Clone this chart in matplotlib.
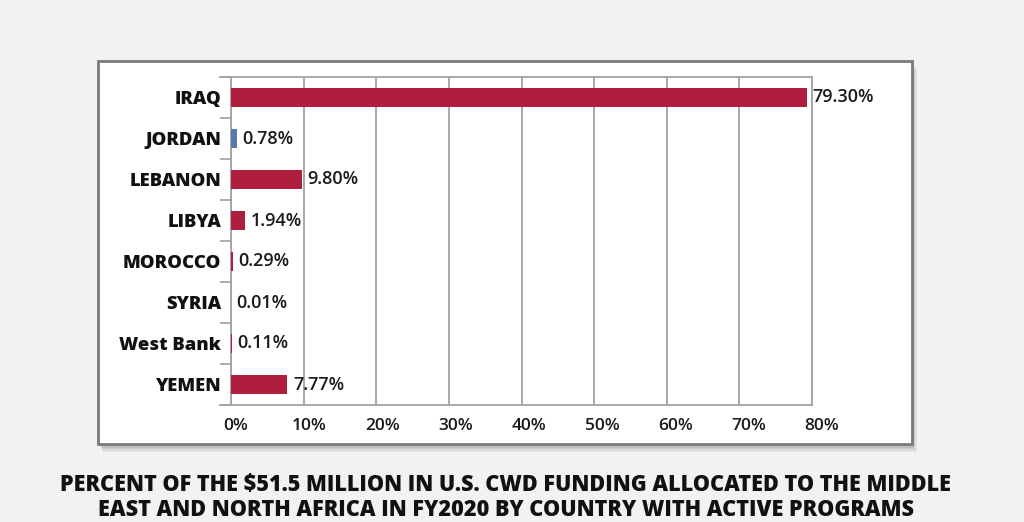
import matplotlib
matplotlib.use("Agg")
import matplotlib.pyplot as plt
from matplotlib.patches import Rectangle
from matplotlib.lines import Line2D
import matplotlib.transforms as mtrans
import numpy as np

countries = ["IRAQ", "JORDAN", "LEBANON", "LIBYA", "MOROCCO", "SYRIA", "West Bank", "YEMEN"]
values = [79.30, 0.78, 9.80, 1.94, 0.29, 0.01, 0.11, 7.77]
value_labels = ["79.30%", "0.78%", "9.80%", "1.94%", "0.29%", "0.01%", "0.11%", "7.77%"]
x_ticks = [0, 10, 20, 30, 40, 50, 60, 70, 80]
x_tick_labels = ["0%", "10%", "20%", "30%", "40%", "50%", "60%", "70%", "80%"]
title_lines = ["PERCENT OF THE $51.5 MILLION IN U.S. CWD FUNDING ALLOCATED TO THE MIDDLE",
               "EAST AND NORTH AFRICA IN FY2020 BY COUNTRY WITH ACTIVE PROGRAMS"]

RED = "#b01e3e"
BLUE = "#5a78b0"
bar_colors = [RED, BLUE, RED, RED, RED, RED, RED, RED]

W, H = 1024, 522
fig = plt.figure(figsize=(W / 100, H / 100), dpi=100)
fig.patch.set_facecolor("#f2f2f4")

px0, px1, py0, py1 = 98, 912, 61, 444
def fx(x): return x / W
def fy(y): return 1 - y / H
for i, a in enumerate([0.05, 0.05, 0.06, 0.07, 0.08]):
    off = 8 - i * 1.5
    fig.patches.append(Rectangle((fx(px0 + off * 0.6), fy(py1 + off)), fx(px1 - px0), fy(py0) - fy(py1),
                                 transform=fig.transFigure, facecolor="#000000", alpha=a,
                                 edgecolor="none", zorder=0))
fig.patches.append(Rectangle((fx(px0), fy(py1)), fx(px1 - px0), fy(py0) - fy(py1),
                             transform=fig.transFigure, facecolor="white",
                             edgecolor="#7a7a7a", linewidth=2, zorder=1))

ax = fig.add_axes([231 / W, 1 - 405 / H, (812 - 231) / W, (405 - 77) / H])
ax.set_facecolor("none")
ax.set_zorder(2)

y = np.arange(len(countries))
ax.barh(y, values, height=0.47, color=bar_colors, zorder=3)
ax.set_ylim(len(countries) - 0.5, -0.5)
ax.set_xlim(0, 80)

ax.set_xticks(x_ticks)
ax.set_xticklabels(x_tick_labels, fontfamily="Open Sans", fontsize=12.5, color="#1a1a1a", fontweight="semibold")
ax.tick_params(axis="x", length=0, pad=9)
for i, t in enumerate(ax.get_xticklabels()):
    t.set_transform(t.get_transform() + mtrans.ScaledTranslation((5 + i * 0.6) / 100, 0, fig.dpi_scale_trans))

ax.set_yticks(y)
ax.set_yticklabels(countries, fontfamily="Open Sans", fontsize=13.3, fontweight="extra bold", color="#111111")
ax.tick_params(axis="y", length=0, pad=7)
ax.set_yticks(np.arange(len(countries) + 1) - 0.5, minor=True)
ax.tick_params(axis="y", which="minor", length=8, width=1.2, color="#a0a0a0", direction="out")

ax.grid(axis="x", color="#a3a3a3", linewidth=1.3, zorder=1)
for s in ["top", "bottom", "left", "right"]:
    ax.spines[s].set_color("#a3a3a3")
    ax.spines[s].set_linewidth(1.3)

for yy in [0, 1]:
    ax.add_line(Line2D([-0.019, 0], [yy, yy], transform=ax.transAxes, color="#a3a3a3",
                       linewidth=1.3, clip_on=False))

for yi, v, lab in zip(y, values, value_labels):
    ax.annotate(lab, xy=(v, yi), xytext=(4, 0), textcoords="offset points",
                va="center", ha="left", fontfamily="Open Sans", fontsize=13,
                fontweight="semibold", color="#1a1a1a", zorder=4)

fig.text(506 / W, fy(485), title_lines[0], ha="center", va="center", fontfamily="Open Sans",
         fontweight="extra bold", fontsize=15.6, color="#111111")
fig.text(506 / W, fy(510), title_lines[1], ha="center", va="center", fontfamily="Open Sans",
         fontweight="extra bold", fontsize=15.6, color="#111111")

fig.savefig("out.png", dpi=100, facecolor=fig.get_facecolor())
